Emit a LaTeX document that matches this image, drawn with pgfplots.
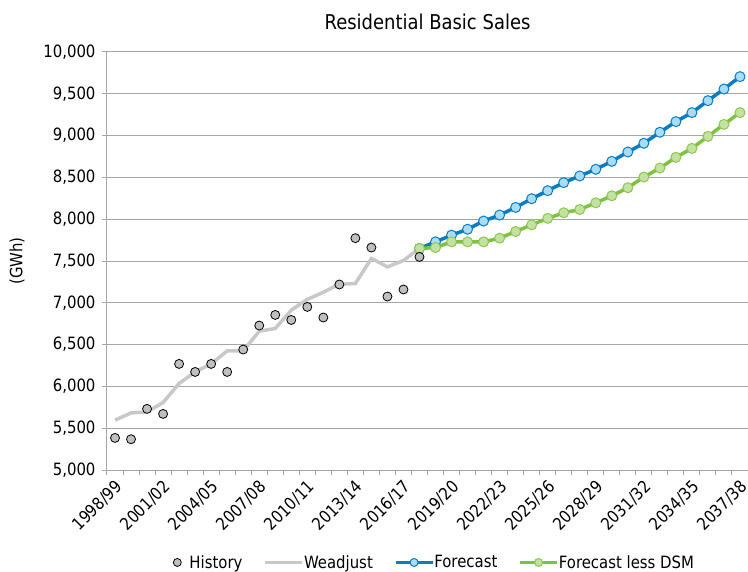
\documentclass[border=0pt]{standalone}
\usepackage{pgfplots}
\pgfplotsset{compat=1.18}
\usepackage{fontspec}
\setmainfont{DejaVu Sans}[FakeStretch=0.88]
\definecolor{histfill}{HTML}{BFBFBF}
\definecolor{weadj}{HTML}{C8C8C8}
\definecolor{fcline}{HTML}{0B7CC1}
\definecolor{fcfill}{HTML}{A9DDF7}
\definecolor{gline}{HTML}{7DC242}
\definecolor{gfill}{HTML}{C3E2A0}
\definecolor{gedge}{HTML}{8DC653}
\definecolor{gridc}{HTML}{A6A6A6}
\pgfplotsset{
  linelegend/.style={legend image code/.code={\draw[##1] (0bp,0bp) -- (37bp,0bp); \draw[##1, only marks, mark size=4bp] plot coordinates {(18.5bp,0bp)};}},
  markleg/.style={legend image code/.code={\path (0bp,0bp) (34bp,0bp); \draw[##1] plot coordinates {(22bp,0bp)};}},
}
\begin{document}
\begin{tikzpicture}
\useasboundingbox (-107bp,-102bp) rectangle (641bp,470bp);
\begin{axis}[
  scale only axis, width=641bp, height=418bp,
  xmin=-0.5, xmax=39.5, ymin=5000, ymax=10000,
  axis x line=bottom, axis y line=left,
  axis line style={-, draw=gridc, line width=1bp},
  ytick={5000,5500,...,10000},
  scaled y ticks=false,
  ymajorgrids, grid style={draw=gridc, line width=1bp},
  xtick={0,3,...,39},
  xticklabels={1998/99,2001/02,2004/05,2007/08,2010/11,2013/14,2016/17,2019/20,2022/23,2025/26,2028/29,2031/32,2034/35,2037/38},
  minor xtick={-0.5,0.5,...,39.5},
  every major x tick/.style={draw=none},
  every minor x tick/.style={draw=gridc, line width=1bp},
  every major y tick/.style={draw=gridc, line width=1bp},
  tick align=outside, major tick length=5bp, minor tick length=5bp,
  xticklabel style={rotate=45, anchor=north east, inner sep=2bp, xshift=-1bp},
  yticklabel style={xshift=-3bp},
  tick label style={font=\fontsize{17}{19}\selectfont},
  /pgf/number format/assume math mode=true,
  /pgf/number format/.cd, fixed, 1000 sep={,}, /pgfplots/.cd,
  ylabel={(GWh)}, ylabel style={font=\fontsize{17}{19}\selectfont, yshift=12bp},
  title={Residential Basic Sales}, title style={font=\fontsize{20.5}{23}\selectfont, yshift=13bp},
  legend columns=4,
  legend style={at={(0.497,-0.194)}, anchor=north, draw=none, font=\fontsize{17}{19}\selectfont,
    /tikz/every even column/.append style={column sep=19bp},
    /tikz/every odd column/.append style={column sep=-2bp}},
  linelegend,
]
\addlegendimage{only marks, mark=*, mark size=4bp, mark options={fill=histfill, draw=black, line width=0.8bp}, markleg}
\addlegendentry{History}
\addlegendimage{weadj, line width=3.5bp, mark=none}
\addlegendentry{Weadjust}
\addlegendimage{fcline, line width=3.5bp, mark=*, mark size=5bp, mark options={fill=fcfill, draw=fcline, line width=1bp}}
\addlegendentry{Forecast}
\addlegendimage{gline, line width=3.5bp, mark=*, mark size=5bp, mark options={fill=gfill, draw=gedge, line width=1bp}}
\addlegendentry{Forecast less DSM}

\addplot[weadj, line width=3.5bp, forget plot] coordinates {
(0,5596) (1,5683) (2,5695) (3,5807) (4,6035) (5,6173) (6,6269) (7,6425) (8,6425) (9,6660)
(10,6693) (11,6912) (12,7040) (13,7127) (14,7222) (15,7230) (16,7530) (17,7430) (18,7506) (19,7650)};

\addplot[fcline, line width=3.5bp, mark=*, mark size=5bp, mark options={fill=fcfill, draw=fcline, line width=1bp}, forget plot] coordinates {
(19,7650) (20,7729) (21,7809) (22,7880) (23,7978) (24,8050) (25,8141) (26,8245) (27,8341) (28,8437)
(29,8517) (30,8597) (31,8692) (32,8804) (33,8908) (34,9040) (35,9167) (36,9275) (37,9418) (38,9557) (39,9705)};

\addplot[gline, line width=3.5bp, mark=*, mark size=5bp, mark options={fill=gfill, draw=gedge, line width=1bp}, forget plot] coordinates {
(19,7650) (20,7661) (21,7729) (22,7729) (23,7729) (24,7773) (25,7853) (26,7933) (27,8010) (28,8077)
(29,8116) (30,8196) (31,8280) (32,8376) (33,8504) (34,8612) (35,8740) (36,8847) (37,8991) (38,9134) (39,9275)};

\addplot[only marks, mark=*, mark size=4.5bp, mark options={fill=histfill, draw=black, line width=0.8bp}, forget plot] coordinates {
(0,5384) (1,5368) (2,5731) (3,5671) (4,6269) (5,6173) (6,6269) (7,6173) (8,6441) (9,6728)
(10,6855) (11,6795) (12,6951) (13,6824) (14,7219) (15,7773) (16,7661) (17,7075) (18,7159) (19,7549)};
\end{axis}
\end{tikzpicture}
\end{document}
